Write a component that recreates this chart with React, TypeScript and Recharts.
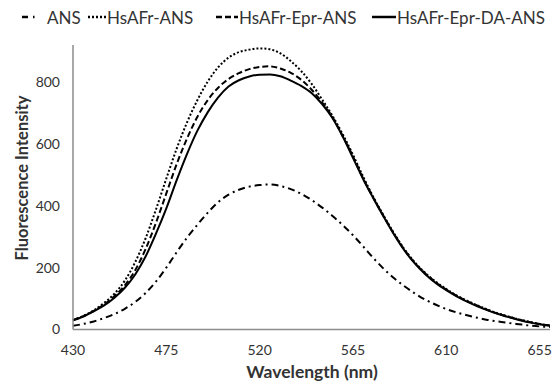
import React from "react";
import { LineChart, Line, XAxis, YAxis, Label } from "recharts";

const wavelengths = [430,435,440,445,450,455,460,465,470,475,480,485,490,495,500,505,510,515,520,525,530,535,540,545,550,555,560,565,570,575,580,585,590,595,600,605,610,615,620,625,630,635,640,645,650,655,660];
const ans = [12,18,26,37,50,67,89,118,155,200,250,297,339,378,412,436,452,462,467,469,464,454,439,419,395,368,338,305,268,230,195,165,139,116,96,80,66,55,46,38,31,26,21,17,13,10,8];
const hsafrAns = [30,44,62,86,116,158,218,295,388,488,585,670,742,802,848,879,897,905,909,906,893,868,836,795,745,692,632,565,493,426,366,309,258,216,182,154,131,110,93,78,64,52,42,33,25,18,13];
const hsafrEprAns = [30,43,60,81,108,143,192,260,345,440,535,618,688,742,782,810,829,842,849,851,844,830,808,776,735,688,626,560,487,424,364,307,256,214,180,152,129,109,92,77,63,51,41,32,24,18,13];
const hsafrEprDaAns = [30,42,59,78,103,135,178,236,310,392,483,568,643,703,751,786,806,818,824,825,819,805,788,765,730,685,625,555,485,422,362,305,254,212,178,150,127,107,90,75,62,50,40,31,23,17,12];

const xTicks = [430,475,520,565,610,655];
const yTicks = [0,200,400,600,800];

const seriesNames = ["ANS","HsAFr-ANS","HsAFr-Epr-ANS","HsAFr-Epr-DA-ANS"];
const dashes = ["7 4 2 4","2 2","6 3",""];
const seriesKeys = ["ans","hsafrAns","hsafrEprAns","hsafrEprDaAns"];

const data = wavelengths.map((w, i) => ({
  w,
  ans: ans[i],
  hsafrAns: hsafrAns[i],
  hsafrEprAns: hsafrEprAns[i],
  hsafrEprDaAns: hsafrEprDaAns[i],
}));

const FONT = "Lato, 'Open Sans', sans-serif";

const legendItems = [
  { swX: 22, swW: 14, dash: "6 5 1.5 10", txX: 47 },
  { swX: 88, swW: 19, dash: "2 2", txX: 107 },
  { swX: 216, swW: 22, dash: "6 3", txX: 239 },
  { swX: 372, swW: 24, dash: "", txX: 397 },
];

export default function App() {
  return (
    <div style={{ position: "absolute", left: 0, top: 0, width: 557, height: 383, background: "#fff" }}>
      <LineChart width={557} height={383} data={data} margin={{ top: 45, right: 7, left: 0, bottom: 23.5 }}>
        <XAxis
          dataKey="w"
          type="number"
          domain={[430, 660]}
          ticks={xTicks}
          tickLine={false}
          tickSize={0}
          tickMargin={16}
          height={30}
          axisLine={{ stroke: "#8c8c8c", strokeWidth: 1.5 }}
          tick={{ fill: "#333", fontSize: 14, fontFamily: FONT }}
        >
          <Label
            content={() => (
              <text x={312} y={378} textAnchor="middle" fontFamily={FONT} fontSize={17.5} fontWeight="bold" fill="#333">
                Wavelength (nm)
              </text>
            )}
          />
        </XAxis>
        <YAxis
          type="number"
          domain={[0, 920]}
          ticks={yTicks}
          width={73}
          tickLine={false}
          tickSize={0}
          tickMargin={13}
          axisLine={{ stroke: "#8c8c8c", strokeWidth: 1.5 }}
          tick={{ fill: "#333", fontSize: 14, fontFamily: FONT }}
        >
          <Label
            content={() => (
              <text x={22} y={178} transform="rotate(-90 22 178)" textAnchor="middle" dominantBaseline="central" fontFamily={FONT} fontSize={16.5} fontWeight="bold" fill="#333">
                Fluorescence Intensity
              </text>
            )}
          />
        </YAxis>
        {seriesKeys.map((k, i) => (
          <Line
            key={k}
            dataKey={k}
            name={seriesNames[i]}
            type="monotone"
            stroke="#000"
            strokeWidth={2}
            strokeDasharray={dashes[i] || undefined}
            dot={false}
            isAnimationActive={false}
          />
        ))}
      </LineChart>
      <svg width={557} height={34} style={{ position: "absolute", left: 0, top: 0 }}>
        {legendItems.map((it, i) => (
          <g key={i}>
            <line x1={it.swX} x2={it.swX + it.swW} y1={17} y2={17} stroke="#000" strokeWidth={2.5} strokeDasharray={it.dash || undefined} />
            <text x={it.txX} y={17} dominantBaseline="central" fontFamily={FONT} fontSize={17} fill="#333">
              {seriesNames[i]}
            </text>
          </g>
        ))}
      </svg>
    </div>
  );
}
